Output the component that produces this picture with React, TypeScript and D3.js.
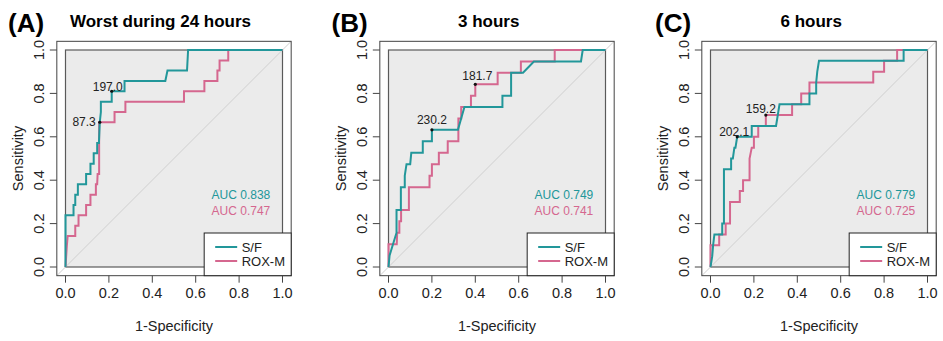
import React from "react";
import * as d3 from "d3";

// ROC points, [1-specificity, sensitivity]
const sfA: [number, number][] = [
  [0, 0], [0, 0.238], [0.037, 0.238], [0.037, 0.286], [0.045, 0.286], [0.045, 0.333],
  [0.057, 0.333], [0.057, 0.381], [0.095, 0.381], [0.095, 0.429], [0.115, 0.429],
  [0.115, 0.476], [0.13, 0.476], [0.13, 0.524], [0.146, 0.524], [0.146, 0.571],
  [0.154, 0.571], [0.158, 0.667], [0.163, 0.714], [0.163, 0.762], [0.213, 0.762],
  [0.213, 0.81], [0.272, 0.81], [0.272, 0.857], [0.46, 0.857], [0.47, 0.905],
  [0.56, 0.905], [0.565, 1], [1, 1],
];
const roxA: [number, number][] = [
  [0, 0], [0.003, 0.048], [0.006, 0.095], [0.01, 0.143], [0.045, 0.143], [0.045, 0.19],
  [0.06, 0.19], [0.06, 0.238], [0.095, 0.238], [0.095, 0.286], [0.115, 0.286],
  [0.115, 0.333], [0.14, 0.333], [0.14, 0.381], [0.146, 0.381], [0.148, 0.429],
  [0.155, 0.429], [0.155, 0.667], [0.226, 0.667], [0.226, 0.714], [0.276, 0.714],
  [0.276, 0.762], [0.546, 0.762], [0.546, 0.81], [0.64, 0.81], [0.64, 0.857],
  [0.7, 0.857], [0.7, 0.905], [0.71, 0.905], [0.71, 0.952], [0.75, 0.952], [0.75, 1], [1, 1],
];
const sfB: [number, number][] = [
  [0, 0], [0.005, 0.053], [0.037, 0.158], [0.037, 0.263], [0.057, 0.263], [0.057, 0.368],
  [0.075, 0.368], [0.075, 0.421], [0.083, 0.474], [0.1, 0.474], [0.105, 0.526],
  [0.158, 0.526], [0.158, 0.579], [0.2, 0.579], [0.2, 0.632], [0.32, 0.632],
  [0.35, 0.737], [0.525, 0.737], [0.525, 0.789], [0.565, 0.789], [0.565, 0.895],
  [0.62, 0.895], [0.67, 0.947], [0.887, 0.947], [0.895, 1], [1, 1],
];
const roxB: [number, number][] = [
  [0, 0], [0, 0.105], [0.038, 0.105], [0.04, 0.158], [0.05, 0.158], [0.05, 0.211],
  [0.058, 0.211], [0.058, 0.263], [0.094, 0.263], [0.094, 0.368], [0.189, 0.368],
  [0.189, 0.421], [0.2, 0.421], [0.2, 0.474], [0.232, 0.474], [0.232, 0.526],
  [0.273, 0.526], [0.273, 0.579], [0.322, 0.579], [0.322, 0.684], [0.335, 0.684],
  [0.335, 0.737], [0.38, 0.737], [0.38, 0.789], [0.4, 0.789], [0.4, 0.842],
  [0.503, 0.842], [0.503, 0.895], [0.61, 0.895], [0.61, 0.947], [0.766, 0.947],
  [0.766, 1], [1, 1],
];
const sfC: [number, number][] = [
  [0, 0], [0.008, 0.05], [0.012, 0.1], [0.018, 0.15], [0.054, 0.15], [0.054, 0.2],
  [0.062, 0.2], [0.062, 0.45], [0.095, 0.45], [0.095, 0.5], [0.103, 0.5], [0.11, 0.55],
  [0.115, 0.55], [0.123, 0.6], [0.19, 0.6], [0.19, 0.65], [0.302, 0.65], [0.318, 0.75],
  [0.456, 0.75], [0.456, 0.8], [0.487, 0.8], [0.487, 0.85], [0.492, 0.9], [0.5, 0.95],
  [0.89, 0.95], [0.89, 1], [1, 1],
];
const roxC: [number, number][] = [
  [0, 0], [0, 0.1], [0.04, 0.1], [0.04, 0.15], [0.07, 0.15], [0.07, 0.2], [0.09, 0.2],
  [0.09, 0.3], [0.135, 0.3], [0.135, 0.35], [0.15, 0.35], [0.15, 0.4], [0.18, 0.4],
  [0.18, 0.5], [0.19, 0.55], [0.2, 0.55], [0.2, 0.6], [0.22, 0.6], [0.22, 0.65],
  [0.255, 0.65], [0.255, 0.7], [0.376, 0.7], [0.376, 0.75], [0.418, 0.75], [0.418, 0.8],
  [0.456, 0.8], [0.456, 0.85], [0.75, 0.85], [0.75, 0.9], [0.8, 0.9], [0.8, 0.95],
  [0.86, 0.95], [0.86, 1], [1, 1],
];

// best thresholds: [fpr, sens, label]
const thrA: [number, number, string][] = [[0.158, 0.667, "87.3"], [0.213, 0.81, "197.0"]];
const thrB: [number, number, string][] = [[0.2, 0.632, "230.2"], [0.4, 0.842, "181.7"]];
const thrC: [number, number, string][] = [[0.123, 0.6, "202.1"], [0.255, 0.7, "159.2"]];

const aucA = ["0.838", "0.747"];
const aucB = ["0.749", "0.741"];
const aucC = ["0.779", "0.725"];

const series = ["S/F", "ROX-M"];
const ticks = [0, 0.2, 0.4, 0.6, 0.8, 1.0];

const TEAL = "#22979a";
const PINK = "#d5678f";
const FONT = "'Liberation Sans', Arial, sans-serif";

// label placement: [anchor, dx, dy]
const thrLayout: Record<string, [string, number, number][]> = {
  A: [["end", -4, 4], ["middle", -4, 0]],
  B: [["middle", 0, -6], ["middle", 2, -4]],
  C: [["middle", -3, -1], ["middle", -5, -2]],
};

interface PanelProps {
  id: string;
  letterX: number;
  title: string;
  titleX: number;
  x0: number;
  sf: [number, number][];
  rox: [number, number][];
  thr: [number, number, string][];
  auc: string[];
}

const Panel = ({ id, letterX, title, titleX, x0, sf, rox, thr, auc }: PanelProps) => {
  const unit = 217;
  const y0 = 267;
  const x = d3.scaleLinear().domain([0, 1]).range([x0, x0 + unit]);
  const y = d3.scaleLinear().domain([0, 1]).range([y0, y0 - unit]);
  // R style plot box, 4% beyond the data range
  const bx0 = x(-0.04), bx1 = x(1.04), by0 = y(-0.04), by1 = y(1.04);
  const line = d3.line<[number, number]>().x((d) => x(d[0])).y((d) => y(d[1]));
  const fmt = d3.format(".1f");
  const clipId = "clip" + id;
  const legW = 87, legH = by0 - 233;

  return (
    <g>
      <text x={letterX} y={32} fontSize={26} fontWeight="bold" fontFamily={FONT}>({id})</text>
      <text x={titleX} y={27} fontSize={17} fontWeight="bold" fontFamily={FONT}>{title}</text>
      <defs>
        <clipPath id={clipId}>
          <rect x={bx0} y={by1} width={bx1 - bx0} height={by0 - by1} />
        </clipPath>
      </defs>
      <rect x={x(0)} y={y(1)} width={unit} height={unit} fill="#ebebeb" stroke="#5a5a5a" strokeWidth={1.2} />
      <line x1={bx0} y1={by0} x2={bx1} y2={by1} stroke="#cfcfcf" strokeWidth={1} clipPath={`url(#${clipId})`} />
      <path d={line(rox) || ""} fill="none" stroke={PINK} strokeWidth={2} />
      <path d={line(sf) || ""} fill="none" stroke={TEAL} strokeWidth={2} />
      {thr.map((t, i) => {
        const [anchor, dx, dy] = thrLayout[id][i];
        return (
          <g key={i}>
            <circle cx={x(t[0])} cy={y(t[1])} r={1.6} fill="#111" />
            <text x={x(t[0]) + dx} y={y(t[1]) + dy} textAnchor={anchor} fontSize={12} fill="#222" fontFamily={FONT}>
              {t[2]}
            </text>
          </g>
        );
      })}
      {auc.map((a, i) => (
        <text key={i} x={x(0.673)} y={198.5 + i * 16} fontSize={12} fill={i === 0 ? TEAL : PINK} fontFamily={FONT}>
          AUC {a}
        </text>
      ))}
      <rect x={bx0} y={by1} width={bx1 - bx0} height={by0 - by1} fill="none" stroke="#444" strokeWidth={1} />
      <rect x={bx1 - legW} y={by0 - legH} width={legW} height={legH} fill="#fff" stroke="#222" strokeWidth={1} />
      {series.map((s, i) => (
        <g key={s}>
          <line x1={bx1 - legW + 11} x2={bx1 - legW + 33} y1={247 + i * 14} y2={247 + i * 14} stroke={i === 0 ? TEAL : PINK} strokeWidth={2} />
          <text x={bx1 - legW + 37.5} y={251.5 + i * 14} fontSize={13} fill="#222" fontFamily={FONT}>{s}</text>
        </g>
      ))}
      {ticks.map((t) => (
        <g key={"x" + t}>
          <line x1={x(t)} x2={x(t)} y1={by0} y2={by0 + 7} stroke="#444" />
          <text x={x(t)} y={298} textAnchor="middle" fontSize={14.5} fill="#222" fontFamily={FONT}>{fmt(t)}</text>
        </g>
      ))}
      {ticks.map((t) => (
        <g key={"y" + t}>
          <line x1={bx0 - 7} x2={bx0} y1={y(t)} y2={y(t)} stroke="#444" />
          <text transform={`translate(${bx0 - 12.5},${y(t)}) rotate(-90)`} textAnchor="middle" fontSize={14.5} fill="#222" fontFamily={FONT}>
            {fmt(t)}
          </text>
        </g>
      ))}
      <text x={(bx0 + bx1) / 2} y={331} textAnchor="middle" fontSize={14.5} fill="#222" fontFamily={FONT}>1-Specificity</text>
      <text transform={`translate(${bx0 - 34},${(by0 + by1) / 2}) rotate(-90)`} textAnchor="middle" fontSize={14.5} fill="#222" fontFamily={FONT}>
        Sensitivity
      </text>
    </g>
  );
};

export default function App() {
  return (
    <svg width={943} height={341} style={{ position: "absolute", left: 0, top: 0, background: "#fff" }}>
      <Panel id="A" letterX={8} title="Worst during 24 hours" titleX={70} x0={65.5} sf={sfA} rox={roxA} thr={thrA} auc={aucA} />
      <Panel id="B" letterX={331.5} title="3 hours" titleX={458} x0={388.5} sf={sfB} rox={roxB} thr={thrB} auc={aucB} />
      <Panel id="C" letterX={655} title="6 hours" titleX={780.5} x0={710.5} sf={sfC} rox={roxC} thr={thrC} auc={aucC} />
    </svg>
  );
}
